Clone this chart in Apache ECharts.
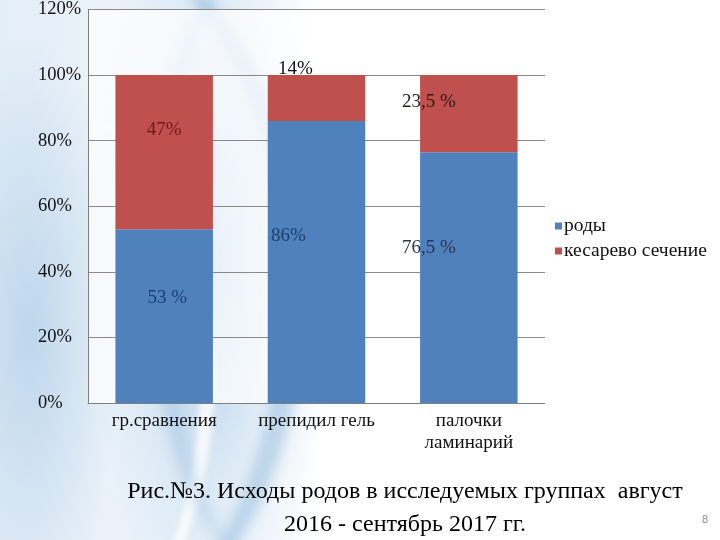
<!DOCTYPE html>
<html><head><meta charset="utf-8">
<script src="https://cdn.jsdelivr.net/npm/echarts@6/dist/echarts.min.js"></script>
<style>
html,body{margin:0;padding:0;}
body{width:720px;height:540px;overflow:hidden;position:relative;background:#fff;}
#bg{position:absolute;left:0;top:0;width:720px;height:540px;overflow:hidden;
background:
 radial-gradient(ellipse 120px 420px at 210px 260px, rgba(120,170,215,0.55) 0%, rgba(160,200,230,0.25) 55%, rgba(255,255,255,0) 100%),
 radial-gradient(ellipse 90px 300px at 30px 330px, rgba(150,190,225,0.5) 0%, rgba(255,255,255,0) 100%),
 linear-gradient(90deg, #e4eef7 0px, #eef4fa 180px, #ffffff 330px);}
#bg .s1{position:absolute;left:-140px;top:-60px;width:420px;height:700px;border-radius:50%;border-right:26px solid rgba(110,160,210,0.35);filter:blur(6px);}
#bg .s2{position:absolute;left:-60px;top:120px;width:260px;height:520px;border-radius:50%;border-right:14px solid rgba(255,255,255,0.8);filter:blur(3px);}
#bg .s3{position:absolute;left:150px;top:-40px;width:200px;height:600px;border-radius:50%;border-left:18px solid rgba(120,170,215,0.35);filter:blur(7px);}
#chart{position:absolute;left:0;top:0;width:720px;height:540px;}
</style></head>
<body>
<div id="bg"><div class="s1"></div><div class="s2"></div><div class="s3"></div></div>
<div id="chart"></div>
<script>
const categories = ["гр.сравнения", "препидил гель", "палочки\nламинарий"];
const seriesNames = ["роды", "кесарево сечение"];
const rodyValues = [53, 86, 76.5];
const kesarevoValues = [47, 14, 23.5];
const rodyLabels = ["53 %", "86%", "76,5 %"];
const kesarevoLabels = ["47%", "14%", "23,5 %"];
const yTicks = [0, 20, 40, 60, 80, 100, 120];

const serif = "'Liberation Serif', 'DejaVu Serif', serif";
const rodyLabelStyle = [
  {position: 'inside', offset: [3, -18], color: '#1f3e6c'},
  {position: 'inside', offset: [-28, -26], color: '#1f3e6c'},
  {position: 'inside', offset: [-40, -30], color: '#2a3550'}
];
const kesLabelStyle = [
  {position: 'inside', offset: [0, -22], color: '#6a1c1a'},
  {position: 'top', offset: [-21, 8], color: '#111'},
  {position: 'inside', offset: [-40, -12], color: '#2a1a1a'}
];

function mk(vals, labels, styles) {
  return vals.map((v, i) => ({
    value: v,
    label: Object.assign({show: true, formatter: labels[i], fontFamily: serif, fontSize: 19}, styles[i])
  }));
}

const chart = echarts.init(document.getElementById('chart'), null, {renderer: 'canvas'});
chart.setOption({
  animation: false,
  backgroundColor: 'transparent',
  grid: {left: 88, right: 175, top: 9, bottom: 137, show: true, backgroundColor: 'rgba(255,255,255,0.72)', borderWidth: 0},
  legend: {
    orient: 'vertical', left: 550, top: 211, itemWidth: 7, itemHeight: 7, itemGap: 5,
    icon: 'rect', data: seriesNames,
    textStyle: {fontFamily: serif, fontSize: 19.5, color: '#111', padding: [0, 0, 0, -3]}
  },
  title: [{
    text: "Рис.№3. Исходы родов в исследуемых группах  август\n2016 - сентябрь 2017 гг.",
    left: 400, top: 470, textAlign: 'center',
    textStyle: {fontFamily: serif, fontSize: 24, fontWeight: 'normal', color: '#000', lineHeight: 33, align: 'center'}
  }, {
    text: "8", left: 697, top: 509,
    textStyle: {fontFamily: "'Liberation Sans', sans-serif", fontSize: 11, fontWeight: 'normal', color: '#8c8c8c'}
  }],
  xAxis: {
    type: 'category', data: categories,
    axisLine: {lineStyle: {color: '#7f7f7f', width: 1}},
    axisTick: {show: false},
    axisLabel: {fontFamily: serif, fontSize: 19, color: '#111', margin: 7, lineHeight: 22}
  },
  yAxis: {
    type: 'value', min: 0, max: 120, interval: 20,
    axisLine: {show: true, lineStyle: {color: '#7f7f7f', width: 1}},
    axisTick: {show: false},
    splitLine: {lineStyle: {color: '#8a8a8a', width: 1}},
    axisLabel: {formatter: '{value}%', align: 'left', margin: 50, fontFamily: serif, fontSize: 18.5, color: '#111'}
  },
  series: [
    {name: seriesNames[0], type: 'bar', stack: 'a', barWidth: '64%', data: mk(rodyValues, rodyLabels, rodyLabelStyle),
     itemStyle: {color: '#4f81bd'}},
    {name: seriesNames[1], type: 'bar', stack: 'a', barWidth: '64%', data: mk(kesarevoValues, kesarevoLabels, kesLabelStyle),
     itemStyle: {color: '#c0504d'}}
  ]
});
</script>
</body></html>
